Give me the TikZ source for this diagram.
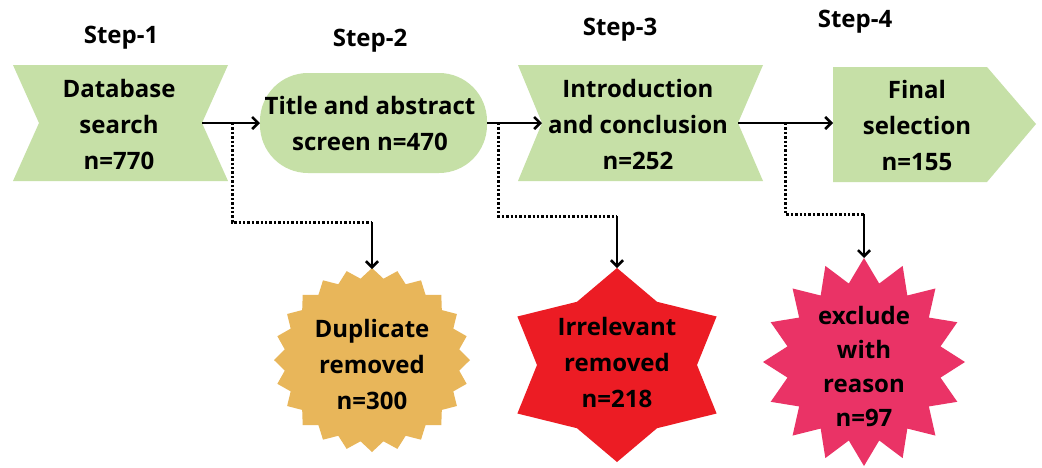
\documentclass[tikz,border=0pt]{standalone}
\usepackage{fontspec}
\setmainfont{Open Sans}
\usetikzlibrary{arrows.meta}
\definecolor{leaf}{RGB}{198,224,167}
\definecolor{mustard}{RGB}{232,182,90}
\definecolor{scarlet}{RGB}{236,28,36}
\definecolor{rose}{RGB}{234,51,102}
\tikzset{
  lbl/.style={font=\bfseries\fontsize{24}{36}\selectfont, align=center, text=black, inner sep=0pt},
  steplbl/.style={font=\bfseries\fontsize{24}{28}\selectfont, text=black, inner sep=0pt},
  flow/.style={line width=2.6pt, -{Straight Barb[length=6pt,width=12pt,line width=2.6pt]}},
  dots/.style={line width=3pt, dash pattern=on 2.4pt off 2pt},
}
\begin{document}
\begin{tikzpicture}[x=1pt,y=-1pt]
\useasboundingbox (0,0) rectangle (1042,467);
\fill[white] (0,0) rectangle (1042,467);

% step headings
\node[steplbl] (h1) at (121,38) {Step-1};
\node[steplbl] (h2) at (370,41) {Step-2};
\node[steplbl] (h3) at (620,30) {Step-3};
\node[steplbl] (h4) at (855,22) {Step-4};

% step 1: notched banner
\fill[leaf] (13,65) -- (228,65) -- (202,123) -- (228,181) -- (13,181) -- (39,123) -- cycle;
\node[lbl] (s1) at (119,124) {Database\\search\\n=770};
\coordinate (s1out) at (202,123);

% step 2: rounded capsule
\fill[leaf, rounded corners=48pt] (260,73) rectangle (487,173);
\node[lbl] (s2) at (370,123) {Title and abstract\\screen n=470};
\coordinate (s2in) at (260,123);
\coordinate (s2out) at (487,123);

% step 3: hourglass banner
\fill[leaf] (518,65) -- (763,65) -- (738,123) -- (763,181) -- (518,181) -- (542,123) -- cycle;
\node[lbl] (s3) at (638,124) {Introduction\\and conclusion\\n=252};
\coordinate (s3in) at (542,123);
\coordinate (s3out) at (738,123);

% step 4: pentagon arrow
\fill[leaf] (833,67) -- (987,67) -- (1036,124) -- (987,182) -- (833,182) -- cycle;
\node[lbl] (s4) at (917,125) {Final\\selection\\n=155};
\coordinate (s4in) at (833,123);

% removed records: seals and stars
\fill[mustard, shift={(372,360)}] (0,-92) \foreach \i [evaluate=\i as \a using 90+\i*7.5,
    evaluate=\i as \rx using {mod(\i,2)==0 ? 98 : 88},
    evaluate=\i as \ry using {mod(\i,2)==0 ? 92 : 82}] in {1,...,47}
  { -- ({\rx*cos(\a)},{-\ry*sin(\a)}) } -- cycle;
\node[lbl] (d1) at (372,364) {Duplicate\\removed\\n=300};
\coordinate (d1top) at (372,269);

\fill[scarlet, shift={(617,365)}] (0,-97) \foreach \i [evaluate=\i as \a using 90+\i*30,
    evaluate=\i as \rx using {mod(\i,2)==0 ? 115 : 80},
    evaluate=\i as \ry using {mod(\i,2)==0 ? 97 : 73}] in {1,...,11}
  { -- ({\rx*cos(\a)},{-\ry*sin(\a)}) } -- cycle;
\node[lbl] (d2) at (617,362) {Irrelevant\\removed\\n=218};
\coordinate (d2top) at (617,268);

\fill[rose, shift={(864,362)}] (0,-104) \foreach \i [evaluate=\i as \a using 90+\i*11.25,
    evaluate=\i as \rx using {mod(\i,2)==0 ? 101 : 78},
    evaluate=\i as \ry using {mod(\i,2)==0 ? 104 : 80}] in {1,...,31}
  { -- ({\rx*cos(\a)},{-\ry*sin(\a)}) } -- cycle;
\node[lbl, font=\bfseries\fontsize{24}{34}\selectfont] (d3) at (864,366) {exclude\\with\\reason\\n=97};
\coordinate (d3top) at (864,258);

% main flow
\draw[flow] (s1out) -- (s2in);
\draw[flow] (s2out) -- (s3in);
\draw[flow] (s3out) -- (s4in);

% branches to the removed counts
\coordinate (j1) at (232,123);
\coordinate (k1) at (372,222);
\draw[dots] (j1) |- (k1);
\draw[flow] (k1) -- (d1top);

\coordinate (j2) at (498,123);
\coordinate (k2) at (617,216);
\draw[dots] (j2) |- (k2);
\draw[flow] (k2) -- (d2top);

\coordinate (j3) at (785,123);
\coordinate (k3) at (864,214);
\draw[dots] (j3) |- (k3);
\draw[flow] (k3) -- (d3top);
\end{tikzpicture}
\end{document}
